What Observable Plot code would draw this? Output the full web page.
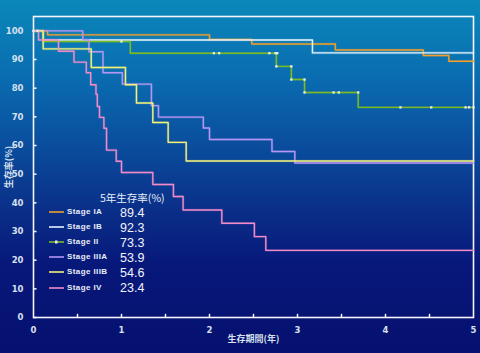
<!DOCTYPE html>
<html>
<head>
<meta charset="utf-8">
<script src="https://cdn.jsdelivr.net/npm/d3@7"></script>
<script src="https://cdn.jsdelivr.net/npm/@observablehq/plot@0.6"></script>
<style>
  html, body { margin: 0; padding: 0; }
  body { width: 480px; height: 353px; overflow: hidden; }
  #wrap {
    position: relative; width: 480px; height: 353px;
    background: linear-gradient(180deg, #0a88ba 0%, #0a6cb0 22%, #0a4c9c 42%, #0a2e88 60%, #07187a 75%, #06106e 100%);
    font-family: "Noto Sans CJK JP", "DejaVu Sans", sans-serif;
  }
  #chart svg { display: block; background: transparent !important; }
  .legend-title { position: absolute; left: 100px; top: 192px; height: 11px; line-height: 11px; font-size: 10.5px; color: #e8eef8; white-space: nowrap; }
  .row { position: absolute; left: 0; height: 14px; line-height: 14px; white-space: nowrap; }
  .row svg { position: absolute; left: 48px; top: 0; }
  .row .name { position: absolute; left: 67px; font-size: 8px; font-weight: bold; color: #e8eef8; letter-spacing: 0.4px; font-family: "Liberation Sans", Arial, sans-serif; }
  .row .val { position: absolute; left: 120px; top: 1.5px; height: 12px; line-height: 12px; font-size: 12.5px; color: #f2f4fa; font-family: "Liberation Sans", Arial, sans-serif; }
</style>
</head>
<body>
<div id="wrap"><div id="chart"></div><div id="legend"></div></div>
<script>
// ---- data ----
const stages = ["Stage IA", "Stage IB", "Stage II", "Stage IIIA", "Stage IIIB", "Stage IV"];
const fiveYear = ["89.4", "92.3", "73.3", "53.9", "54.6", "23.4"];
const colors = ["#f0a02a", "#e2f2ff", "#7cbc20", "#b696f4", "#f2f27a", "#f08ac8"];

const iaTime   = [0, 0.16, 2.00, 2.48, 3.43, 4.43, 4.72, 5];
const iaSurv   = [100, 98.6, 97.0, 95.4, 93.3, 91.4, 89.4, 89.4];
const ibTime   = [0, 0.11, 3.17, 5];
const ibSurv   = [100, 96.8, 92.3, 92.3];
const iiTime   = [0, 0.11, 1.10, 2.76, 2.93, 3.08, 3.69, 5];
const iiSurv   = [100, 96.3, 92.2, 87.6, 83.0, 78.5, 73.3, 73.3];
const iiiaTime = [0, 0.56, 0.63, 0.79, 1.01, 1.34, 1.42, 1.93, 2.00, 2.71, 2.97, 5];
const iiiaSurv = [100, 96.9, 92.7, 85.4, 81.4, 73.9, 69.9, 66.1, 62.1, 57.9, 53.9, 53.9];
const iiibTime = [0, 0.11, 0.656, 1.045, 1.17, 1.356, 1.53, 1.735, 5];
const iiibSurv = [100, 93.7, 87.2, 81.2, 74.8, 68.0, 61.1, 54.6, 54.6];
const ivTime   = [0, 0.057, 0.284, 0.46, 0.60, 0.65, 0.71, 0.725, 0.75, 0.80, 0.83, 0.94, 1.00, 1.356, 1.59, 1.70, 2.14, 2.51, 2.64, 5];
const ivSurv   = [100, 96.8, 92.9, 89.1, 85.4, 81.2, 77.9, 73.6, 69.8, 66.0, 58.4, 54.5, 50.6, 46.4, 42.2, 37.5, 32.9, 28.2, 23.4, 23.4];

// censored observations (Stage II and the start of the curves)
const censorTime = [0, 0.045, 1.00, 2.05, 2.11, 2.68, 2.75, 2.77, 2.76, 2.93, 2.93, 3.08, 3.08, 3.41, 3.47, 3.69, 4.17, 4.52, 4.91, 4.95, 5.0];
const censorSurv = [100, 100, 96.3, 92.2, 92.2, 92.2, 92.2, 92.2, 87.6, 87.6, 83.0, 83.0, 78.5, 78.5, 78.5, 78.5, 73.3, 73.3, 73.3, 73.3, 73.3];

const yTicks = [0, 10, 20, 30, 40, 50, 60, 70, 80, 90, 100];
const xTicks = [0, 1, 2, 3, 4, 5];
const xMinorTicks = [0.5, 1, 1.5, 2, 2.5, 3, 3.5, 4, 4.5];

// ---- build tables ----
const series = [[iaTime, iaSurv], [ibTime, ibSurv], [iiTime, iiSurv], [iiiaTime, iiiaSurv], [iiibTime, iiibSurv], [ivTime, ivSurv]];
const rows = series.flatMap(([t, s], i) => t.map((x, j) => ({stage: stages[i], t: x, s: s[j]})));
const censors = censorTime.map((t, i) => ({t, s: censorSurv[i]}));

const textColor = "#e6ecf6";
const chart = Plot.plot({
  width: 480,
  height: 353,
  marginLeft: 33,
  marginRight: 7,
  marginTop: 16,
  marginBottom: 36,
  style: {background: "transparent", color: textColor, fontFamily: "'DejaVu Sans', sans-serif"},
  x: {domain: [0, 5]},
  y: {domain: [0, 105]},
  color: {domain: stages, range: colors},
  marks: [
    Plot.frame({stroke: "#f4f6fb", strokeWidth: 1.6}),
    Plot.axisY(yTicks, {tickSize: 0, tickPadding: 10, fontSize: 8.5, fontWeight: "bold", fill: "#d8e0ee",
      label: "生存率(%)", labelAnchor: "center", labelArrow: "none", labelOffset: 28}),
    Plot.axisX(xTicks, {tickSize: 0, tickPadding: 9, fontSize: 8.5, fontWeight: "bold", fill: "#d8e0ee",
      label: "生存期間(年)", labelAnchor: "center", labelArrow: "none", labelOffset: 24}),
    Plot.ruleY(yTicks, {y: d => d, x1: 0, x2: 0.04, stroke: "#f4f6fb", strokeWidth: 1.5}),
    Plot.ruleX(xMinorTicks, {x: d => d, y1: 0, y2: 1.1, stroke: "#f4f6fb", strokeWidth: 1.5}),
    Plot.line(rows, {x: "t", y: "s", z: "stage", stroke: "stage", curve: "step-after", strokeWidth: 2.6, strokeOpacity: 0.2}),
    Plot.line(rows, {x: "t", y: "s", z: "stage", stroke: "stage", curve: "step-after", strokeWidth: 1.4}),
    Plot.dot(censors, {x: "t", y: "s", symbol: "square", r: 1.3, fill: "#e8eef8", stroke: "none"})
  ]
});
document.getElementById("chart").append(chart);
// label styling
chart.querySelectorAll("g[aria-label='y-axis label'] text, g[aria-label='x-axis label'] text").forEach(t => {
  t.setAttribute("font-size", "9");
  t.setAttribute("font-weight", "bold");
  t.setAttribute("fill", "#d8e0ee");
  t.style.fontFamily = "'Noto Sans CJK JP', sans-serif";
});

// ---- legend overlay ----
const legend = document.getElementById("legend");
const title = document.createElement("div");
title.className = "legend-title";
title.textContent = "5年生存率(%)";
legend.append(title);
stages.forEach((name, i) => {
  const row = document.createElement("div");
  row.className = "row";
  row.style.top = (205 + i * 15.1) + "px";
  const marker = i === 2 ? `<rect x="7" y="5.5" width="2.5" height="3" fill="#e8eef8"/>` : "";
  row.innerHTML = `<svg width="18" height="14"><line x1="1" x2="16" y1="7" y2="7" stroke="${colors[i]}" stroke-width="1.6"/>${marker}</svg>` +
    `<span class="name">${name}</span><span class="val">${fiveYear[i]}</span>`;
  legend.append(row);
});
</script>
</body>
</html>
